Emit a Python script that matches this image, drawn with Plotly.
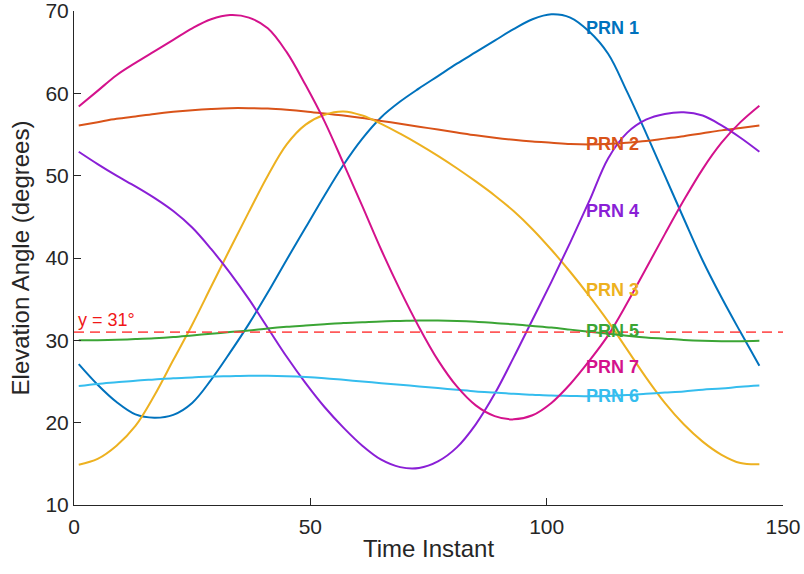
import numpy as np
import plotly.graph_objects as go

# Time instants (every 4th sample)
time = list(range(1, 146, 4))

prn1 = [27.1, 24.6, 22.5, 21.0, 20.6, 20.95, 22.4, 25.2, 28.5, 32.0, 35.8, 39.8, 43.7,
        47.6, 51.3, 54.5, 57.1, 59.0, 60.6, 62.1, 63.6, 65.0, 66.4, 67.8, 69.0, 69.6,
        69.2, 67.5, 64.8, 60.2, 55.2, 50.0, 44.8, 39.7, 35.2, 31.0, 26.9]
prn2 = [56.1, 56.5, 56.9, 57.2, 57.5, 57.75, 57.95, 58.1, 58.2, 58.2, 58.15, 58.0, 57.8,
        57.55, 57.3, 57.0, 56.65, 56.3, 55.95, 55.6, 55.25, 54.9, 54.6, 54.35, 54.15, 54.0,
        53.85, 53.8, 53.85, 54.0, 54.2, 54.5, 54.8, 55.15, 55.5, 55.8, 56.1]
prn3 = [14.9, 15.6, 17.2, 19.6, 23.3, 27.6, 31.9, 36.5, 41.1, 45.6, 50.0, 53.8, 56.2,
        57.4, 57.8, 57.3, 56.3, 55.1, 53.8, 52.4, 50.9, 49.3, 47.6, 45.7, 43.5, 41.0,
        38.3, 35.4, 32.3, 28.9, 25.5, 22.4, 19.8, 17.7, 16.1, 15.1, 14.95]
prn4 = [52.9, 51.4, 50.0, 48.7, 47.3, 45.7, 43.7, 41.1, 38.2, 35.0, 31.5, 28.0, 24.8,
        21.9, 19.4, 17.2, 15.5, 14.6, 14.5, 15.3, 17.0, 19.8, 23.5, 27.9, 32.5, 37.1,
        41.9, 46.9, 52.1, 55.2, 56.8, 57.5, 57.7, 57.3, 56.1, 54.6, 52.9]
prn5 = [30.0, 30.02, 30.07, 30.15, 30.25, 30.4, 30.6, 30.8, 31.0, 31.2, 31.45, 31.65, 31.8,
        31.95, 32.1, 32.2, 32.3, 32.35, 32.4, 32.4, 32.35, 32.25, 32.1, 31.95, 31.75, 31.55,
        31.3, 31.05, 30.8, 30.55, 30.35, 30.2, 30.05, 29.95, 29.9, 29.9, 29.95]
prn6 = [24.45, 24.7, 24.9, 25.1, 25.25, 25.4, 25.5, 25.6, 25.65, 25.7, 25.7, 25.65, 25.55,
        25.4, 25.2, 25.0, 24.8, 24.6, 24.4, 24.2, 24.0, 23.8, 23.65, 23.5, 23.4, 23.3,
        23.25, 23.2, 23.25, 23.35, 23.5, 23.65, 23.8, 24.0, 24.15, 24.35, 24.5]
prn7 = [58.4, 60.3, 62.2, 63.7, 65.1, 66.5, 67.9, 69.0, 69.5, 69.2, 67.9, 65.0, 61.0,
        56.6, 51.5, 46.3, 41.0, 36.1, 31.6, 27.6, 24.4, 22.1, 20.8, 20.4, 20.9, 22.4,
        24.7, 27.5, 30.6, 34.5, 38.7, 42.9, 47.0, 50.8, 54.0, 56.5, 58.5]

names = ["PRN 1", "PRN 2", "PRN 3", "PRN 4", "PRN 5", "PRN 6", "PRN 7"]
series = [prn1, prn2, prn3, prn4, prn5, prn6, prn7]
colors = ["#0072BD", "#D95319", "#EDB120", "#8A1FD6", "#3BA535", "#35BDEE", "#D4128C"]

threshold = 31
label_x = 108

FONT = "Liberation Sans, Arial, Helvetica"

fig = go.Figure()
for name, vals, col in zip(names, series, colors):
    fig.add_trace(go.Scatter(x=time, y=vals, mode="lines", name=name,
                             line=dict(color=col, width=2, shape="spline", smoothing=1.0),
                             showlegend=False, hoverinfo="skip"))

# threshold line
fig.add_trace(go.Scatter(x=[0, 150], y=[threshold, threshold], mode="lines",
                         line=dict(color="rgba(255,60,60,0.85)", width=1.8, dash="10px,6px"),
                         showlegend=False, hoverinfo="skip"))

annotations = []
for name, vals, col in zip(names, series, colors):
    yv = float(np.interp(label_x, time, vals))
    annotations.append(dict(x=label_x, y=yv, text="<b>%s</b>" % name, showarrow=False,
                            xanchor="left", yanchor="middle", xshift=0,
                            font=dict(family=FONT, size=18, color=col)))
annotations.append(dict(x=0.4, y=threshold, text="y = %d°" % threshold, showarrow=False,
                        xanchor="left", yanchor="bottom", yshift=0,
                        font=dict(family=FONT, size=18, color="#F01818")))

axis_common = dict(showline=True, linecolor="#262626", linewidth=1, ticks="inside",
                   ticklen=7, tickcolor="#262626", tickwidth=1, showgrid=False, zeroline=False,
                   mirror=False, ticklabeloverflow="allow", automargin=False,
                   tickfont=dict(family=FONT, size=21, color="#262626"))

fig.update_layout(
    width=804, height=574,
    margin=dict(l=74, r=21, t=11, b=69),
    paper_bgcolor="white", plot_bgcolor="white",
    font=dict(family=FONT, color="#262626"),
    xaxis=dict(range=[0, 150], tickvals=[0, 50, 100, 150], ticklabelstandoff=3,
               title=dict(text="Time Instant", font=dict(size=24, color="#262626"), standoff=2),
               **axis_common),
    yaxis=dict(range=[10, 70], tickvals=[10, 20, 30, 40, 50, 60, 70],
               title=dict(text="Elevation Angle (degrees)", font=dict(size=24, color="#262626"), standoff=9),
               **axis_common),
    annotations=annotations,
)

fig.write_html("out.html")
